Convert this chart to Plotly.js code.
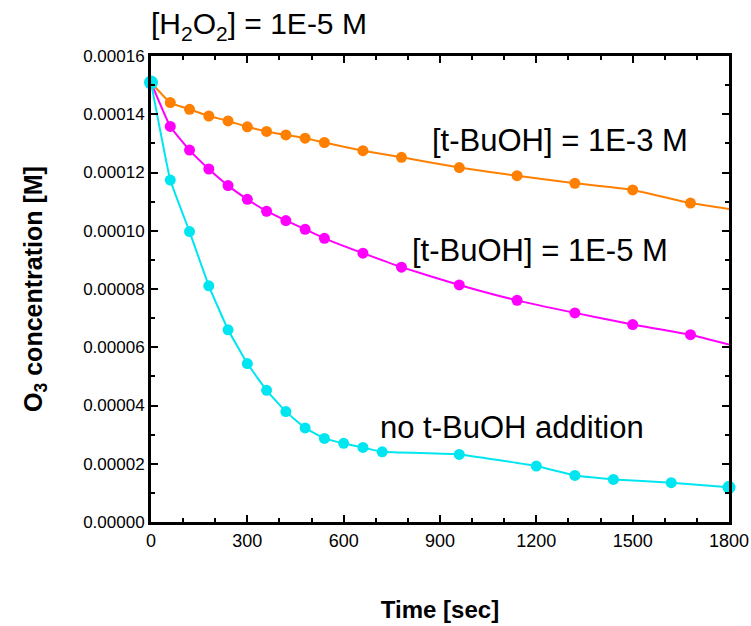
<!DOCTYPE html>
<html>
<head>
<meta charset="utf-8">
<script src="https://cdn.plot.ly/plotly-3.0.1.min.js"></script>
<style>
  html, body { margin: 0; padding: 0; background: #fff; }
  #chart { width: 751px; height: 626px; }
</style>
</head>
<body>
<div id="chart"></div>
<script>
// Ozone decay in 1E-5 M H2O2, with and without t-BuOH scavenger
// Time axis in seconds, O3 concentration in mol/L

const timeButanol = [0, 60, 120, 180, 240, 300, 360, 420, 480, 540, 660, 780, 960, 1140, 1320, 1500, 1680];
const o3Butanol1e3 = [0.0001509, 0.0001440, 0.0001417, 0.0001394, 0.0001377, 0.0001357, 0.0001341, 0.0001329, 0.0001318, 0.0001303, 0.0001275, 0.0001252, 0.0001217, 0.0001189, 0.0001163, 0.0001140, 0.0001095];
const o3Butanol1e5 = [0.0001509, 0.0001358, 0.0001277, 0.0001212, 0.0001155, 0.0001108, 0.0001067, 0.0001035, 0.0001005, 0.0000974, 0.0000923, 0.0000875, 0.0000814, 0.0000761, 0.0000718, 0.0000678, 0.0000643];

const timeNoButanol = [0, 60, 120, 180, 240, 300, 360, 420, 480, 540, 600, 660, 720, 960, 1200, 1320, 1440, 1620, 1800];
const o3NoButanol = [0.0001509, 0.0001174, 0.0000997, 0.0000811, 0.0000660, 0.0000544, 0.0000452, 0.0000379, 0.0000323, 0.0000287, 0.0000270, 0.0000256, 0.0000241, 0.0000232, 0.0000192, 0.0000160, 0.0000146, 0.0000135, 0.0000119];

// fitted curves run on to the end of the time axis
const fitEndTime = 1800;
const fitEnd1e3 = 0.0001075;
const fitEnd1e5 = 0.0000609;

const xTickVals = [0, 300, 600, 900, 1200, 1500, 1800];
const yTickVals = [0, 0.00002, 0.00004, 0.00006, 0.00008, 0.0001, 0.00012, 0.00014, 0.00016];

const ORANGE = '#FF8000';
const MAGENTA = '#FF00FF';
const CYAN = '#00E6F0';
const FONT = 'Liberation Sans, Arial, sans-serif';

function fitTrace(x, y, color, smoothing) {
  return {
    x: x, y: y, type: 'scatter', mode: 'lines',
    line: { color: color, width: 2, shape: 'spline', smoothing: smoothing },
    hoverinfo: 'skip', showlegend: false, cliponaxis: false
  };
}
function pointTrace(x, y, color, sizes) {
  return {
    x: x, y: y, type: 'scatter', mode: 'markers',
    marker: { color: color, size: sizes, opacity: 1, line: { width: 0 } },
    showlegend: false, cliponaxis: false
  };
}

const cyanSizes = timeNoButanol.map((t, i) =>
  (i === 0 ? 14 : (i === timeNoButanol.length - 1 ? 13 : 11)));

const traces = [
  fitTrace(timeButanol.concat([fitEndTime]), o3Butanol1e3.concat([fitEnd1e3]), ORANGE, 0.4),
  pointTrace(timeButanol, o3Butanol1e3, ORANGE, 11),
  fitTrace(timeButanol.concat([fitEndTime]), o3Butanol1e5.concat([fitEnd1e5]), MAGENTA, 0.4),
  pointTrace(timeButanol, o3Butanol1e5, MAGENTA, 11),
  fitTrace(timeNoButanol, o3NoButanol, CYAN, 0.3),
  pointTrace(timeNoButanol, o3NoButanol, CYAN, cyanSizes)
];

const axisCommon = {
  showgrid: false, zeroline: false,
  showline: true, linecolor: '#000', linewidth: 3,
  mirror: 'ticks', ticks: 'inside', ticklen: 7, tickwidth: 2, tickcolor: '#000'
};

const layout = {
  width: 751, height: 626,
  margin: { l: 151, r: 22, t: 56, b: 104 },
  paper_bgcolor: '#fff', plot_bgcolor: '#fff',
  font: { family: FONT, color: '#000' },
  title: {
    text: '[H<sub>2</sub>O<sub>2</sub>] = 1E-5 M',
    font: { family: FONT, size: 30, color: '#000' },
    x: 0.201, xref: 'container', xanchor: 'left',
    y: 0.962, yref: 'container', yanchor: 'middle'
  },
  xaxis: Object.assign({}, axisCommon, {
    range: [0, 1800],
    tickmode: 'array', tickvals: xTickVals,
    tickfont: { family: FONT, size: 18, color: '#000' },
    minor: { dtick: 100, ticks: 'inside', ticklen: 4, tickwidth: 2, tickcolor: '#000' },
    title: { text: '<b>Time [sec]</b>', font: { family: FONT, size: 24, color: '#000' }, standoff: 52 }
  }),
  yaxis: Object.assign({}, axisCommon, {
    range: [0, 0.00016],
    tickmode: 'array', tickvals: yTickVals, tickformat: '.5f',
    tickfont: { family: FONT, size: 17, color: '#000' },
    minor: { dtick: 0.00001, ticks: 'inside', ticklen: 4, tickwidth: 2, tickcolor: '#000' },
    title: { text: '<b>O<sub>3</sub> concentration [M]</b>', font: { family: FONT, size: 25, color: '#000' }, standoff: 34 }
  }),
  annotations: [
    { x: 869, y: 0.0001309, xref: 'x', yref: 'y', xanchor: 'left', yanchor: 'middle',
      text: '[t-BuOH] = 1E-3 M', showarrow: false, font: { family: FONT, size: 31, color: '#000' } },
    { x: 807, y: 0.0000932, xref: 'x', yref: 'y', xanchor: 'left', yanchor: 'middle',
      text: '[t-BuOH] = 1E-5 M', showarrow: false, font: { family: FONT, size: 31, color: '#000' } },
    { x: 707, y: 0.0000325, xref: 'x', yref: 'y', xanchor: 'left', yanchor: 'middle',
      text: 'no t-BuOH addition', showarrow: false, font: { family: FONT, size: 31, color: '#000' } }
  ]
};

Plotly.newPlot('chart', traces, layout, { displayModeBar: false, staticPlot: true });
</script>
</body>
</html>
